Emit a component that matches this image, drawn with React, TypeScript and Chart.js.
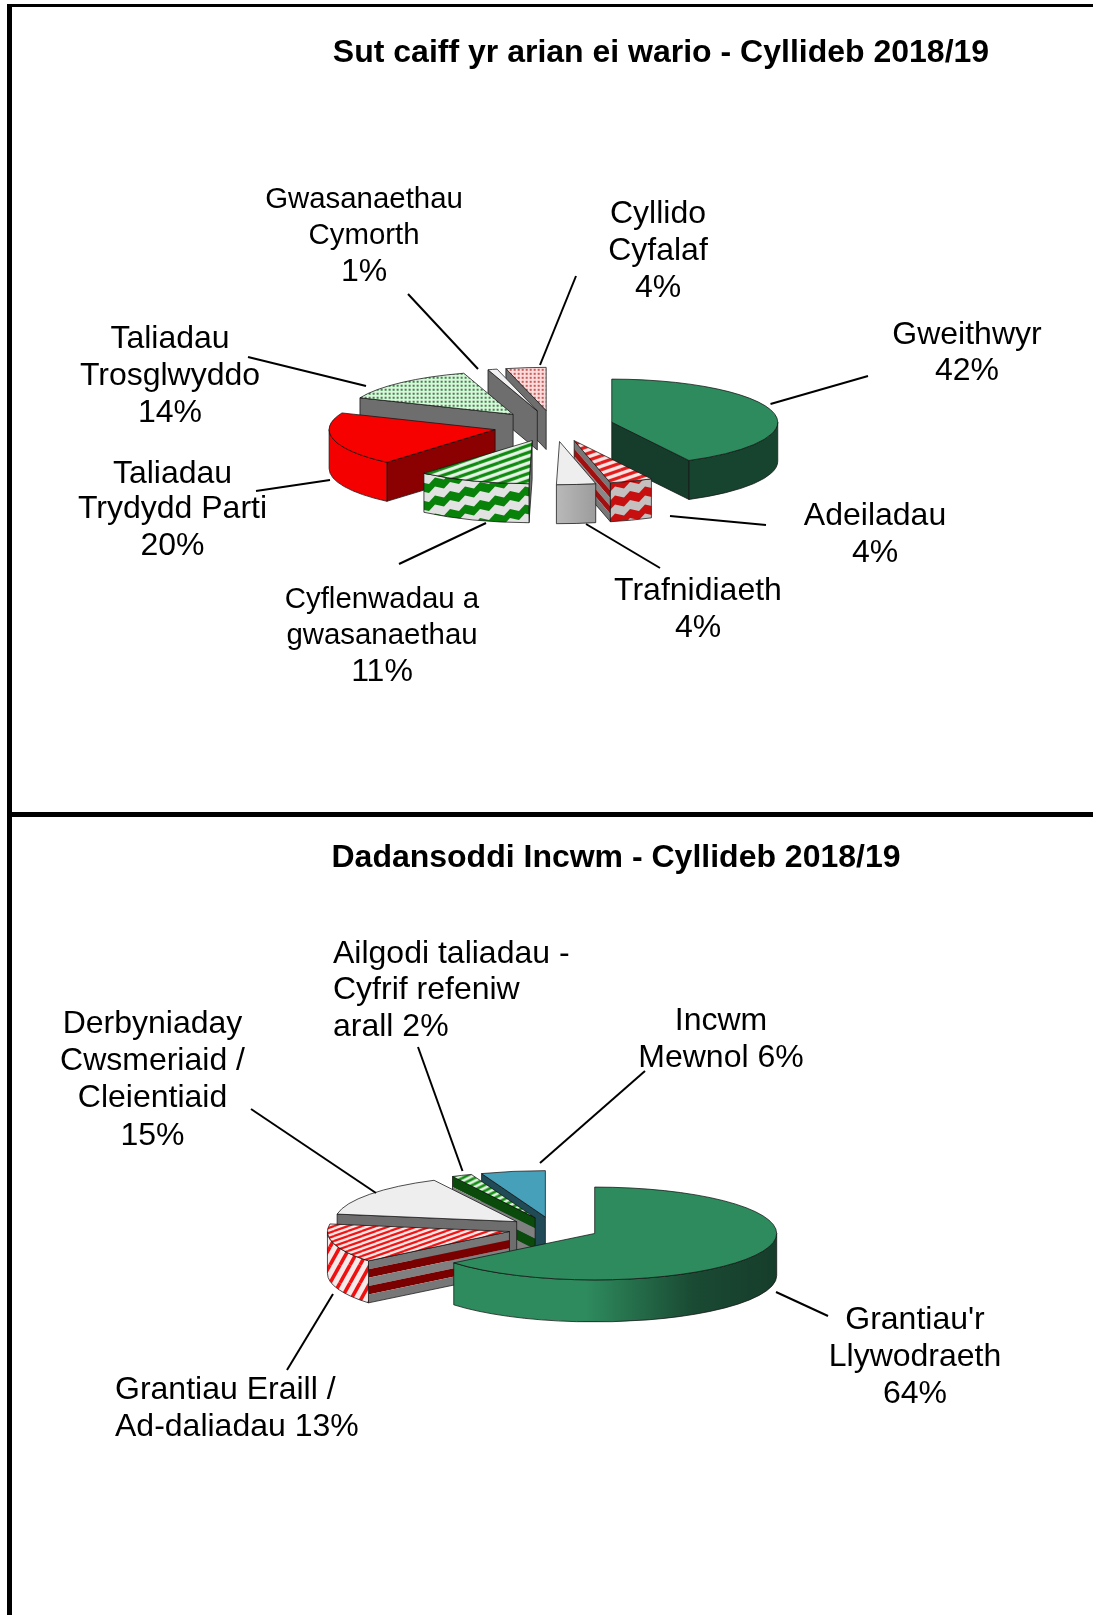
import React, { useEffect, useRef } from "react";
import { Chart, registerables } from "chart.js";

Chart.register(...registerables);

// ---------- data ----------
const spendCategories = ["Gweithwyr", "Adeiladau", "Trafnidiaeth", "Cyflenwadau a gwasanaethau", "Taliadau Trydydd Parti", "Taliadau Trosglwyddo", "Gwasanaethau Cymorth", "Cyllido Cyfalaf"];
const spendValues = [42.3, 4.2, 3.8, 11, 20, 13.9, 0.9, 3.9];
const spendTitle = "Sut caiff yr arian ei wario - Cyllideb 2018/19";
const spendLabels = [
  ["Gweithwyr", "42%"],
  ["Adeiladau", "4%"],
  ["Trafnidiaeth", "4%"],
  ["Cyflenwadau a", "gwasanaethau", "11%"],
  ["Taliadau", "Trydydd Parti", "20%"],
  ["Taliadau", "Trosglwyddo", "14%"],
  ["Gwasanaethau", "Cymorth", "1%"],
  ["Cyllido", "Cyfalaf", "4%"],
];

const incomeCategories = ["Grantiau'r Llywodraeth", "Grantiau Eraill / Ad-daliadau", "Derbyniaday Cwsmeriaid / Cleientiaid", "Ailgodi taliadau - Cyfrif refeniw arall", "Incwm Mewnol"];
const incomeValues = [64.1, 13.5, 14.9, 1.8, 5.7];
const incomeTitle = "Dadansoddi Incwm - Cyllideb 2018/19";
const incomeLabels = [
  ["Grantiau'r", "Llywodraeth", "64%"],
  ["Grantiau Eraill /", "Ad-daliadau 13%"],
  ["Derbyniaday", "Cwsmeriaid /", "Cleientiaid", "15%"],
  ["Ailgodi taliadau -", "Cyfrif refeniw", "arall 2%"],
  ["Incwm", "Mewnol 6%"],
];

// ---------- layout (page pixels) ----------
const spendLabelLayout = [
  { x: 967, ys: [333, 369], size: 32, align: "center" },
  { x: 875, ys: [514, 551], size: 32, align: "center" },
  { x: 698, ys: [589, 626], size: 32, align: "center" },
  { x: 382, ys: [598, 634, 670], size: 29.4, lastSize: 32, align: "center" },
  { x: 172.5, ys: [472, 507, 544], size: 32, align: "center" },
  { x: 170, ys: [337, 374, 411], size: 32, align: "center" },
  { x: 364, ys: [198, 234, 270], size: 29.4, lastSize: 32, align: "center" },
  { x: 658, ys: [212, 249, 286], size: 32, align: "center" },
];
const spendLeaders = [
  [868, 376, 770.5, 404], [766, 525, 670, 516], [660, 568, 586, 524], [399, 564, 486, 523],
  [256, 491, 330, 480], [248, 357, 366, 386], [408, 294, 478, 369], [576, 276, 540, 365],
];
const incomeLabelLayout = [
  { x: 915, ys: [1318.5, 1355.5, 1392], size: 32, align: "center" },
  { x: 115, ys: [1388, 1425], size: 32, align: "left" },
  { x: 152.5, ys: [1022, 1059, 1096, 1134], size: 32, align: "center" },
  { x: 333, ys: [952, 988, 1025], size: 32, align: "left" },
  { x: 721, ys: [1019, 1056], size: 32, align: "center" },
];
const incomeLeaders = [
  [828, 1316, 776, 1292], [287, 1370, 333, 1294], [251, 1109, 376, 1193], [418, 1047, 462.5, 1171], [645, 1071, 540, 1163],
];

// ---------- pattern helpers ----------
function tile(w: number, h: number, paint: (c: CanvasRenderingContext2D) => void, squash = 1) {
  const cv = document.createElement("canvas");
  cv.width = w;
  cv.height = h;
  const c = cv.getContext("2d")!;
  paint(c);
  const p = c.createPattern(cv, "repeat")!;
  if (squash !== 1) p.setTransform(new DOMMatrix().scale(1, 1 / squash));
  return p;
}
function stripes(w: number, h: number, bg: string, fg: string, thick: number, squash = 1) {
  return tile(w, h, (c) => {
    c.fillStyle = bg;
    c.fillRect(0, 0, w, h);
    c.strokeStyle = fg;
    c.lineWidth = thick;
    for (const [dx, dy] of [[0, 0], [-w, 0], [w, 0], [0, -h], [0, h]]) {
      c.beginPath();
      c.moveTo(dx, h + dy);
      c.lineTo(w + dx, dy);
      c.stroke();
    }
  }, squash);
}
function dots(bg: string, fg: string, squash = 1) {
  return tile(4, 4, (c) => {
    c.fillStyle = bg;
    c.fillRect(0, 0, 4, 4);
    c.fillStyle = fg;
    c.fillRect(1, 1, 2, 2);
  }, squash);
}
function zigzag(bg: string, fg: string) {
  const w = 60, h = 18, teeth = 4, step = w / teeth, rise = h / teeth;
  return tile(w, h, (c) => {
    c.fillStyle = bg;
    c.fillRect(0, 0, w, h);
    c.fillStyle = fg;
    for (const off of [-18, 0, 18, 36]) {
      const top: number[][] = [];
      for (let i = 0; i < teeth; i++) {
        const x = i * step, y = off + h - 4 - i * rise;
        top.push([x, y], [x + step * 0.6, y + 2], [x + step, y - rise]);
      }
      c.beginPath();
      top.forEach(([x, y], i) => (i ? c.lineTo(x, y) : c.moveTo(x, y)));
      top.slice().reverse().forEach(([x, y]) => c.lineTo(x, y + 9));
      c.closePath();
      c.fill();
    }
  });
}

type Grad = { stops: [number, string][] };
type SliceStyle = { top: any; wall: any; cut: string[] };

function spendStyles(k: number): SliceStyle[] {
  return [
    { top: "#2e8b5e", wall: "#17442f", cut: ["#163d2b"] },
    { top: stripes(20, 7, "#fbe6e6", "#e21a1a", 3.2, k), wall: zigzag("#c4c0c0", "#c80f0f"), cut: ["#777", "#a01010", "#888", "#a01010", "#777"] },
    { top: "#eeeeee", wall: { stops: [[0, "#b9b9b9"], [1, "#9c9c9c"]] }, cut: ["#8a8a8a"] },
    { top: stripes(20, 7, "#e8f4e8", "#0d8a0d", 3.2, k), wall: zigzag("#e2e2e2", "#088208"), cut: ["#6e6e6e"] },
    { top: "#f60000", wall: "#f40000", cut: ["#8b0000"] },
    { top: dots("#dff2df", "#2f8f3f", k), wall: "#6e6e6e", cut: ["#6e6e6e"] },
    { top: "#f2f2f2", wall: "#6e6e6e", cut: ["#6e6e6e"] },
    { top: dots("#fbdcdc", "#cc5a5a", k), wall: "#6e6e6e", cut: ["#6e6e6e"] },
  ];
}
function incomeStyles(k: number): SliceStyle[] {
  return [
    { top: "#2e8b5e", wall: { stops: [[0, "#2e8b5e"], [0.41, "#2e8b5e"], [0.74, "#1a4a33"], [1, "#163d2b"]] }, cut: ["#163d2b"] },
    { top: stripes(14, 5, "#fdeaea", "#f01010", 2.2, k), wall: stripes(10, 18, "#f4eaea", "#f01010", 3.6), cut: ["#777", "#7a0000", "#808080", "#7a0000", "#777"] },
    { top: "#eeeeee", wall: "#6e6e6e", cut: ["#6e6e6e"] },
    { top: stripes(12, 6, "#e8f4e8", "#0d8a0d", 2.6, k), wall: "#0a4a0a", cut: ["#0a4a0a", "#808080", "#0a4a0a", "#808080"] },
    { top: "#46a0b9", wall: "#1f4a56", cut: ["#1f4a56"] },
  ];
}

// ---------- drawing plugin: tilts and explodes the arcs Chart.js laid out ----------
const TEXT_NUDGE = 2;
const tiltedPie = {
  id: "tiltedPie",
  beforeDatasetsDraw(chart: any, _a: any, o: any) {
    const { ctx } = chart;
    const { k, depth, explode, styles } = o;
    const arcs = chart.getDatasetMeta(0).data as any[];
    const items = arcs.map((arc, i) => {
      const mid = (arc.startAngle + arc.endAngle) / 2;
      return { arc, i, ax: arc.x + explode * Math.cos(mid), ay: arc.y + explode * k * Math.sin(mid) };
    });
    items.sort((a, b) => a.ay - b.ay);
    ctx.lineWidth = 1;
    const edge = "rgba(20,20,20,0.75)";
    for (const { arc, i, ax, ay } of items) {
      const st = styles[i];
      const R = arc.outerRadius, a0 = arc.startAngle, a1 = arc.endAngle;
      const faces: number[] = [];
      if (Math.sin(a0 - Math.PI / 2) > 0.001) faces.push(a0);
      if (Math.sin(a1 + Math.PI / 2) > 0.001) faces.push(a1);
      for (const th of faces) {
        const qx = ax + R * Math.cos(th), qy = ay + R * k * Math.sin(th);
        const n = st.cut.length;
        st.cut.forEach((col: string, b: number) => {
          const d0 = (depth * b) / n, d1 = (depth * (b + 1)) / n;
          ctx.beginPath();
          ctx.moveTo(ax, ay + d0);
          ctx.lineTo(qx, qy + d0);
          ctx.lineTo(qx, qy + d1);
          ctx.lineTo(ax, ay + d1);
          ctx.closePath();
          ctx.fillStyle = col;
          ctx.fill();
        });
        ctx.beginPath();
        ctx.moveTo(ax, ay);
        ctx.lineTo(qx, qy);
        ctx.lineTo(qx, qy + depth);
        ctx.lineTo(ax, ay + depth);
        ctx.closePath();
        ctx.strokeStyle = edge;
        ctx.stroke();
      }
      const s = Math.max(a0, 0), e = Math.min(a1, Math.PI);
      if (s < e) {
        ctx.beginPath();
        ctx.ellipse(ax, ay, R, R * k, 0, s, e);
        ctx.ellipse(ax, ay + depth, R, R * k, 0, e, s, true);
        ctx.closePath();
        if (st.wall && st.wall.stops) {
          const x0 = ax + R * Math.cos(e), x1 = ax + R * (s <= 0 ? 1 : Math.cos(s));
          const g = ctx.createLinearGradient(x0, 0, x1, 0);
          (st.wall as Grad).stops.forEach(([p, c]) => g.addColorStop(p, c));
          ctx.fillStyle = g;
        } else {
          ctx.fillStyle = st.wall;
        }
        ctx.fill();
        ctx.strokeStyle = edge;
        ctx.stroke();
      }
      // top face: the library's own arc, under a tilt transform
      ctx.save();
      ctx.translate(ax, ay);
      ctx.scale(1, k);
      ctx.translate(-arc.x, -arc.y);
      arc.draw(ctx);
      ctx.restore();
      ctx.beginPath();
      ctx.moveTo(ax, ay);
      ctx.ellipse(ax, ay, R, R * k, 0, a0, a1);
      ctx.closePath();
      ctx.strokeStyle = edge;
      ctx.stroke();
    }
    return false;
  },
  afterDraw(chart: any, _a: any, o: any) {
    const { ctx } = chart;
    ctx.save();
    ctx.fillStyle = "#000";
    ctx.textBaseline = "middle";
    ctx.textAlign = "center";
    ctx.font = `bold ${o.titleSize}px "Liberation Sans"`;
    ctx.fillText(o.title, o.titleX, o.titleY - o.originY + TEXT_NUDGE);
    o.labels.forEach((lines: string[], i: number) => {
      const l = o.labelLayout[i];
      ctx.textAlign = l.align;
      lines.forEach((t, j) => {
        const size = j === lines.length - 1 && l.lastSize ? l.lastSize : l.size;
        ctx.font = `${size}px "Liberation Sans"`;
        ctx.fillText(t, l.x, l.ys[j] - o.originY + TEXT_NUDGE);
      });
    });
    ctx.strokeStyle = "#000";
    ctx.lineWidth = 2;
    o.leaders.forEach(([x0, y0, x1, y1]: number[]) => {
      ctx.beginPath();
      ctx.moveTo(x0, y0 - o.originY);
      ctx.lineTo(x1, y1 - o.originY);
      ctx.stroke();
    });
    ctx.restore();
  },
};

function makeChart(canvas: HTMLCanvasElement, categories: string[], values: number[], radius: number, padding: any, opts: any) {
  return new Chart(canvas, {
    type: "pie",
    data: {
      labels: categories,
      datasets: [{ data: values, backgroundColor: opts.styles.map((s: SliceStyle) => s.top), borderWidth: 0, radius }],
    },
    options: {
      animation: false,
      responsive: false,
      devicePixelRatio: 1,
      layout: { padding },
      plugins: { legend: { display: false }, tooltip: { enabled: false }, tiltedPie: opts },
    } as any,
    plugins: [tiltedPie as any],
  });
}

export default function App() {
  const top = useRef<HTMLCanvasElement>(null);
  const bottom = useRef<HTMLCanvasElement>(null);
  useEffect(() => {
    const a = makeChart(top.current!, spendCategories, spendValues, 166, { left: 14, top: 37 }, {
      k: 0.26, depth: 39, explode: 60, styles: spendStyles(0.26), originY: 0,
      title: spendTitle, titleX: 661, titleY: 51.5, titleSize: 32,
      labels: spendLabels, labelLayout: spendLabelLayout, leaders: spendLeaders,
    });
    const b = makeChart(bottom.current!, incomeCategories, incomeValues, 182, { left: 14, top: 27 }, {
      k: 0.255, depth: 42, explode: 45.6, styles: incomeStyles(0.255), originY: 815,
      title: incomeTitle, titleX: 616, titleY: 856, titleSize: 32,
      labels: incomeLabels, labelLayout: incomeLabelLayout, leaders: incomeLeaders,
    });
    return () => {
      a.destroy();
      b.destroy();
    };
  }, []);
  const line = (s: React.CSSProperties) => <div style={{ position: "absolute", background: "#000", ...s }} />;
  return (
    <div style={{ position: "absolute", left: 0, top: 0, width: 1093, height: 1615, overflow: "hidden", background: "#fff" }}>
      <canvas ref={top} width={1093} height={815} style={{ position: "absolute", left: 0, top: 0 }} />
      <canvas ref={bottom} width={1093} height={800} style={{ position: "absolute", left: 0, top: 815 }} />
      {line({ left: 7, top: 4, width: 1086, height: 3 })}
      {line({ left: 7, top: 4, width: 5, height: 1611 })}
      {line({ left: 7, top: 812, width: 1086, height: 5 })}
    </div>
  );
}
